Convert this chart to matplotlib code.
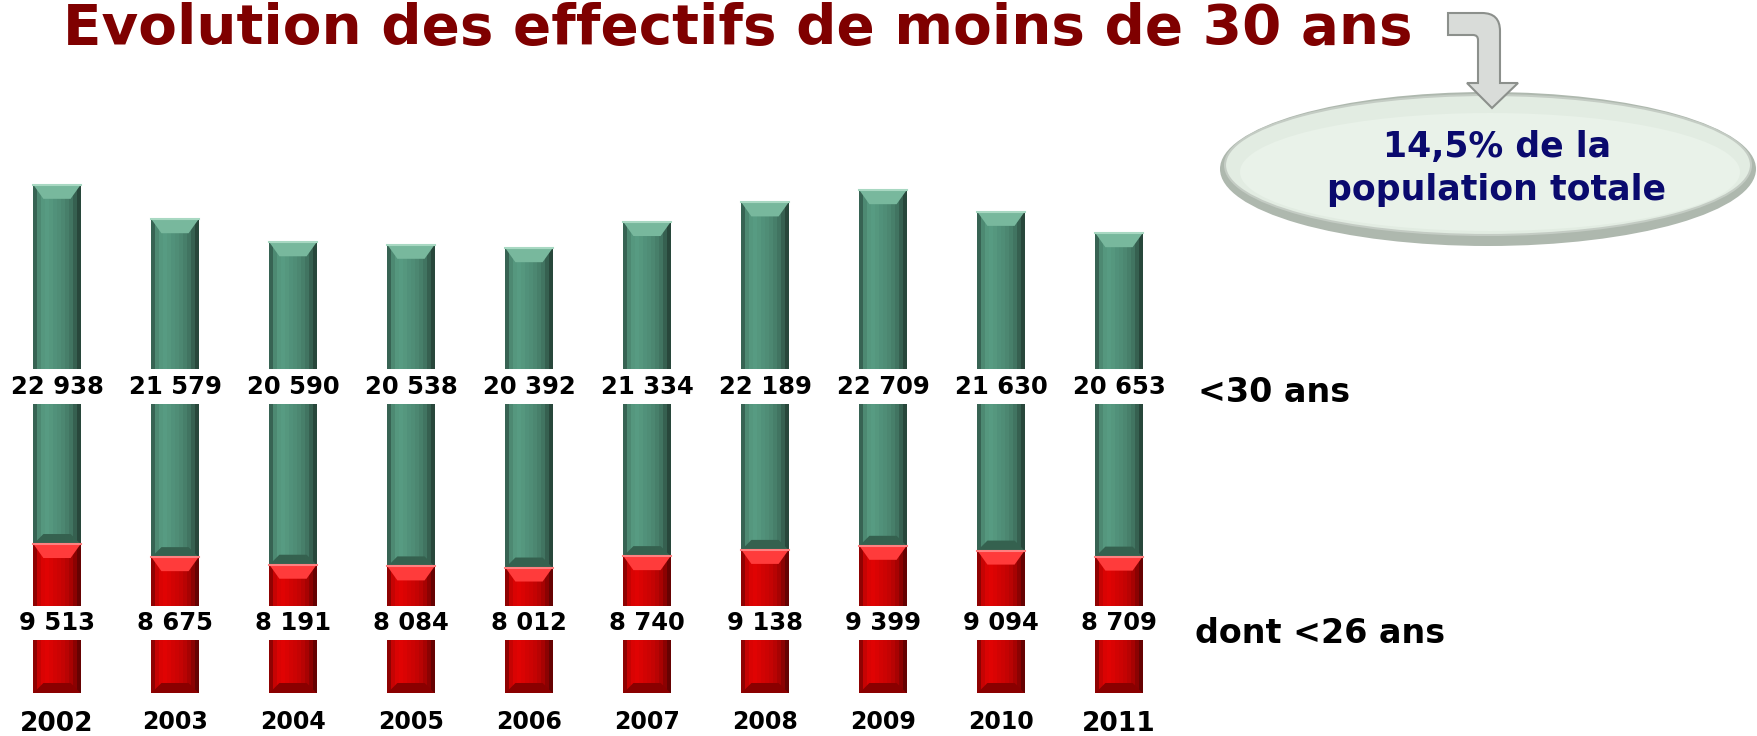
import matplotlib
matplotlib.use("Agg")
import matplotlib.pyplot as plt
import matplotlib.patches as mpatches
import matplotlib.transforms as mtransforms
from matplotlib.path import Path
import numpy as np

# data
years = [2002, 2003, 2004, 2005, 2006, 2007, 2008, 2009, 2010, 2011]
moins_30 = [22938, 21579, 20590, 20538, 20392, 21334, 22189, 22709, 21630, 20653]
moins_26 = [9513, 8675, 8191, 8084, 8012, 8740, 9138, 9399, 9094, 8709]
big_years = [2002, 2011]

titre = "Evolution des effectifs de moins de 30 ans"
bulle = ["14,5% de la", "population totale"]


def fmt(v):
    return f"{v:,}".replace(",", " ")


W, H = 1758, 736
fig = plt.figure(figsize=(W / 100, H / 100), dpi=100)
ax = fig.add_axes([0, 0, 1, 1])
ax.axis("off")

# scale: 0.01566 px per person, baseline at y=693 px
k = 0.01566
ax.set_xlim(-57 / 118, -57 / 118 + W / 118)
ax.set_ylim(-(H - 693) / k, 693 / k)

# pixel transform, origin top-left
pix = mtransforms.Affine2D().scale(1 / W, -1 / H).translate(0, 1) + fig.transFigure

x = np.arange(len(years))
w = 0.4
red = np.array(moins_26)
green = np.array(moins_30)


def shaded(xs, heights, bottoms, base):
    # horizontal shading: a few narrow strips across each bar
    prof = [0.7, 0.97, 1.07, 1.1, 1.07, 1.03, 1.0, 0.96, 0.9, 0.82, 0.68, 0.5]
    n = len(prof)
    sw = w / n
    base = np.array(matplotlib.colors.to_rgb(base))
    for j, f in enumerate(prof):
        c = np.clip(base * f, 0, 1)
        ax.bar(xs - w / 2 + sw * (j + 0.5), heights, width=sw * 1.02, bottom=bottoms,
               color=c, linewidth=0, zorder=2)


shaded(x, red, 0, "#cc0303")
shaded(x, green, red, "#4f8d76")

bev = 14 / k
ins = 10 / 118
for xi, r, g in zip(x, red, green):
    top = r + g
    # top bevels
    for t, col, hi in [(top, "#78b89d", "#a8d8c2"), (r, "#ff3b3b", "#ff8080")]:
        ax.add_patch(mpatches.Polygon([(xi - w / 2, t), (xi + w / 2, t),
                                       (xi + w / 2 - ins, t - bev), (xi - w / 2 + ins, t - bev)],
                                      closed=True, color=col, lw=0, zorder=3))
        ax.plot([xi - w / 2, xi + w / 2], [t, t], color=hi, lw=1.5, zorder=4)
    # bottom bevels
    for b, col in [(r, "#35614f"), (0, "#8a0000")]:
        ax.add_patch(mpatches.Polygon([(xi - w / 2, b), (xi + w / 2, b),
                                       (xi + w / 2 - ins, b + 10 / k), (xi - w / 2 + ins, b + 10 / k)],
                                      closed=True, color=col, lw=0, zorder=3))

# value labels on white bands
lab = dict(ha="center", va="center", fontsize=17.5, fontweight="bold", color="black",
           transform=ax.get_xaxis_transform(), zorder=5,
           bbox=dict(boxstyle="square,pad=0.22", fc="white", ec="none"))
for xi, g, r, yr in zip(x, moins_30, moins_26, years):
    ax.text(xi, 1 - 386.5 / H, fmt(g), **lab)
    ax.text(xi, 1 - 623 / H, fmt(r), **lab)
    big = yr in big_years
    ax.text(xi, 1 - (724 if big else 722) / H, str(yr), ha="center", va="center",
            fontsize=19 if big else 17, fontweight="bold", color="black",
            transform=ax.get_xaxis_transform(), zorder=5)

fig.text(1198 / W, 1 - 402 / H, "<30 ans", fontsize=24, fontweight="bold",
         ha="left", va="baseline")
fig.text(1195 / W, 1 - 643 / H, "dont <26 ans", fontsize=24, fontweight="bold",
         ha="left", va="baseline")

fig.text(63 / W, 1 - 44 / H, titre, fontsize=40.6, fontweight="bold", color="#7f0000",
         ha="left", va="baseline")

# bubble
fig.add_artist(mpatches.Ellipse((1488, 169), 536, 154, transform=pix,
                                fc="#aeb8ae", ec="none", zorder=1))
fig.add_artist(mpatches.Ellipse((1488, 165), 526, 140, transform=pix,
                                fc="#e2ece2", ec="#c4ccc4", lw=1.5, zorder=2))
fig.add_artist(mpatches.Ellipse((1490, 172), 500, 118, transform=pix,
                                fc="#e9f2e9", ec="none", zorder=2))
fig.text(1497 / W, 1 - 157 / H, bulle[0], fontsize=25, fontweight="bold",
         color="#0a0a6e", ha="center", va="baseline", zorder=5)
fig.text(1497 / W, 1 - 200 / H, bulle[1], fontsize=25, fontweight="bold",
         color="#0a0a6e", ha="center", va="baseline", zorder=5)

# bent arrow
verts = [(1448, 13), (1482, 13), (1500, 13), (1500, 31), (1500, 83), (1518, 83),
         (1492, 108), (1467, 83), (1478, 83), (1478, 40), (1478, 35), (1473, 35),
         (1448, 35), (1448, 13)]
codes = [Path.MOVETO, Path.LINETO, Path.CURVE3, Path.CURVE3, Path.LINETO, Path.LINETO,
         Path.LINETO, Path.LINETO, Path.LINETO, Path.LINETO, Path.CURVE3, Path.CURVE3,
         Path.LINETO, Path.CLOSEPOLY]
fig.add_artist(mpatches.PathPatch(Path(verts, codes), transform=pix,
                                  fc="#d9dcd9", ec="#8c908c", lw=1.5, zorder=6))

fig.savefig("out.png", dpi=100)
